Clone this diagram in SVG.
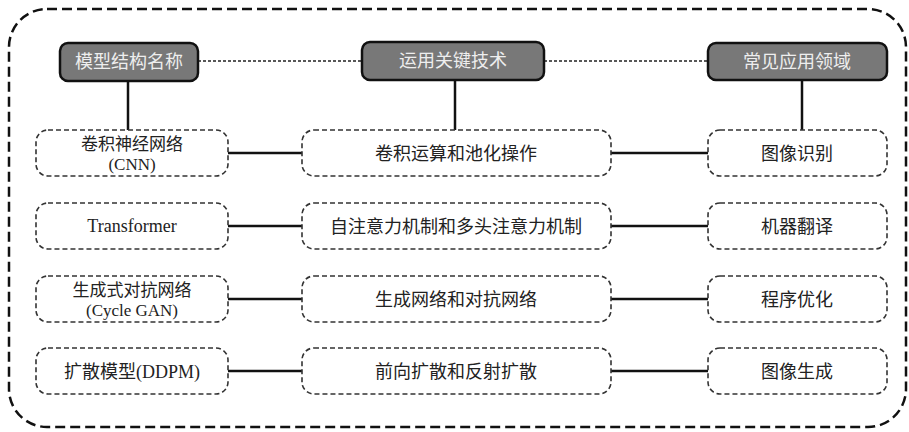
<svg xmlns="http://www.w3.org/2000/svg" width="909" height="432" viewBox="0 0 909 432">
<style>
.t{font-family:"Liberation Serif","Noto Sans CJK SC",serif;font-size:18px;fill:#222;text-anchor:middle}
.t2{font-family:"Liberation Serif","Noto Sans CJK SC",serif;font-size:17px;fill:#222;text-anchor:middle}
.h{font-family:"Liberation Serif","Noto Sans CJK SC",serif;font-size:18px;fill:#eeeeee;text-anchor:middle}
.hb{fill:#787878;stroke:#111;stroke-width:2.5}
.nb{fill:#fff;stroke:#333;stroke-width:1.6;stroke-dasharray:5 3}
.c{stroke:#111;stroke-width:2.5;fill:none}
.d{stroke:#222;stroke-width:1.3;stroke-dasharray:3 2;fill:none}
</style>
<rect width="909" height="432" fill="#fff"/>
<rect x="9" y="9" width="897" height="418" rx="38" fill="none" stroke="#111" stroke-width="2.5" stroke-dasharray="10 5"/>
<g id="connectors">
<line class="d" x1="198" y1="61" x2="362" y2="61"/>
<line class="d" x1="544" y1="61" x2="708" y2="61"/>
<line class="c" x1="128" y1="81" x2="128" y2="130"/>
<line class="c" x1="455" y1="80" x2="455" y2="130"/>
<line class="c" x1="802" y1="80" x2="802" y2="130"/>
<line class="c" x1="228" y1="153" x2="302" y2="153"/>
<line class="c" x1="611" y1="153" x2="708" y2="153"/>
<line class="c" x1="228" y1="226" x2="302" y2="226"/>
<line class="c" x1="611" y1="226" x2="708" y2="226"/>
<line class="c" x1="228" y1="299" x2="302" y2="299"/>
<line class="c" x1="611" y1="299" x2="708" y2="299"/>
<line class="c" x1="228" y1="371" x2="302" y2="371"/>
<line class="c" x1="611" y1="371" x2="708" y2="371"/>
</g>
<g id="h1"><rect class="hb" x="60" y="43" width="138" height="38" rx="8"/><text class="h" x="129" y="68">模型结构名称</text></g>
<g id="h2"><rect class="hb" x="362" y="42" width="182" height="38" rx="8"/><text class="h" x="453" y="67">运用关键技术</text></g>
<g id="h3"><rect class="hb" x="708" y="43" width="179" height="37" rx="8"/><text class="h" x="797" y="68">常见应用领域</text></g>

<g id="n11"><rect class="nb" x="36" y="130" width="192" height="46" rx="12"/><text class="t2" x="132" y="150">卷积神经网络</text><text class="t2" x="132" y="170">(CNN)</text></g>
<g id="n12"><rect class="nb" x="302" y="130" width="309" height="46" rx="12"/><text class="t" x="456" y="160">卷积运算和池化操作</text></g>
<g id="n13"><rect class="nb" x="708" y="130" width="179" height="46" rx="12"/><text class="t" x="797" y="160">图像识别</text></g>

<g id="n21"><rect class="nb" x="36" y="203" width="192" height="46" rx="12"/><text class="t" x="132" y="232">Transformer</text></g>
<g id="n22"><rect class="nb" x="302" y="203" width="309" height="46" rx="12"/><text class="t" x="456" y="233">自注意力机制和多头注意力机制</text></g>
<g id="n23"><rect class="nb" x="708" y="203" width="179" height="46" rx="12"/><text class="t" x="797" y="233">机器翻译</text></g>

<g id="n31"><rect class="nb" x="36" y="276" width="192" height="46" rx="12"/><text class="t2" x="132" y="296">生成式对抗网络</text><text class="t2" x="132" y="316">(Cycle GAN)</text></g>
<g id="n32"><rect class="nb" x="302" y="276" width="309" height="46" rx="12"/><text class="t" x="456" y="306">生成网络和对抗网络</text></g>
<g id="n33"><rect class="nb" x="708" y="276" width="179" height="46" rx="12"/><text class="t" x="797" y="306">程序优化</text></g>

<g id="n41"><rect class="nb" x="36" y="348" width="192" height="46" rx="12"/><text class="t" x="132" y="378">扩散模型(DDPM)</text></g>
<g id="n42"><rect class="nb" x="302" y="348" width="309" height="46" rx="12"/><text class="t" x="456" y="378">前向扩散和反射扩散</text></g>
<g id="n43"><rect class="nb" x="708" y="348" width="179" height="46" rx="12"/><text class="t" x="797" y="378">图像生成</text></g>
</svg>
